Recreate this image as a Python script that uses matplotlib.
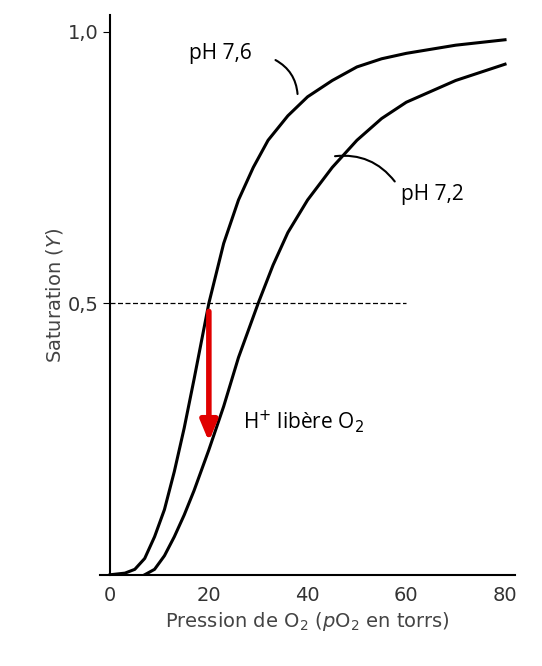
import matplotlib
matplotlib.use("Agg")
import matplotlib.pyplot as plt

x76 = [0, 3, 5, 7, 9, 11, 13, 15, 17, 20, 23, 26, 29, 32, 36, 40, 45, 50, 55, 60, 70, 80]
y76 = [0, 0.003, 0.01, 0.03, 0.07, 0.12, 0.19, 0.27, 0.36, 0.5, 0.61, 0.69, 0.75, 0.8, 0.845, 0.88, 0.91, 0.935, 0.95, 0.96, 0.975, 0.985]
x72 = [7, 9, 11, 13, 15, 17, 20, 23, 26, 28, 30, 33, 36, 40, 45, 50, 55, 60, 70, 80]
y72 = [0, 0.01, 0.035, 0.07, 0.11, 0.155, 0.23, 0.31, 0.4, 0.45, 0.5, 0.57, 0.63, 0.69, 0.75, 0.8, 0.84, 0.87, 0.91, 0.94]
xticks = [0, 20, 40, 60, 80]
yticks = [0.5, 1.0]
ylabels = ["0,5", "1,0"]

fig = plt.figure(figsize=(5.42, 6.66), dpi=100)
ax = fig.add_axes([0.185, 0.137, 0.765, 0.84])
ax.plot(x76, y76, color="black", lw=2.2)
ax.plot(x72, y72, color="black", lw=2.2)
ax.plot([0, 60], [0.5, 0.5], color="black", lw=0.9, ls=(0, (4, 2)))
ax.annotate("", xy=(20, 0.24), xytext=(20, 0.49),
            arrowprops=dict(arrowstyle="-|>,head_width=0.5,head_length=1.2", color="#e00000", lw=4))
ax.text(27, 0.27, "H$^{+}$ libère O$_2$", fontsize=15, family="Open Sans")
ax.text(16, 0.95, "pH 7,6", fontsize=15, family="Open Sans")
ax.text(59, 0.69, "pH 7,2", fontsize=15, family="Open Sans")
ax.annotate("", xy=(38, 0.88), xytext=(33, 0.95),
            arrowprops=dict(arrowstyle="-", color="black", lw=1.5, connectionstyle="arc3,rad=-0.3"))
ax.annotate("", xy=(45, 0.77), xytext=(58, 0.72),
            arrowprops=dict(arrowstyle="-", color="black", lw=1.5, connectionstyle="arc3,rad=0.3"))
ax.set_xlim(-2, 82)
ax.set_ylim(0, 1.03)
ax.spines[["top", "right"]].set_visible(False)
ax.spines["left"].set_position(("data", 0))
ax.spines["left"].set_linewidth(1.5)
ax.spines["bottom"].set_linewidth(1.5)
ax.set_xticks(xticks)
ax.set_yticks(yticks, ylabels)
ax.tick_params(axis="x", length=0, labelsize=14, labelcolor="#333333", pad=8)
ax.tick_params(axis="y", length=5, labelsize=14, labelcolor="#333333")
ax.set_xlabel("Pression de O$_2$ ($p$O$_2$ en torrs)", fontsize=14, color="#444444")
ax.set_ylabel("Saturation ($Y$)", fontsize=14, color="#444444", labelpad=2)
fig.savefig("out.png", dpi=100)
